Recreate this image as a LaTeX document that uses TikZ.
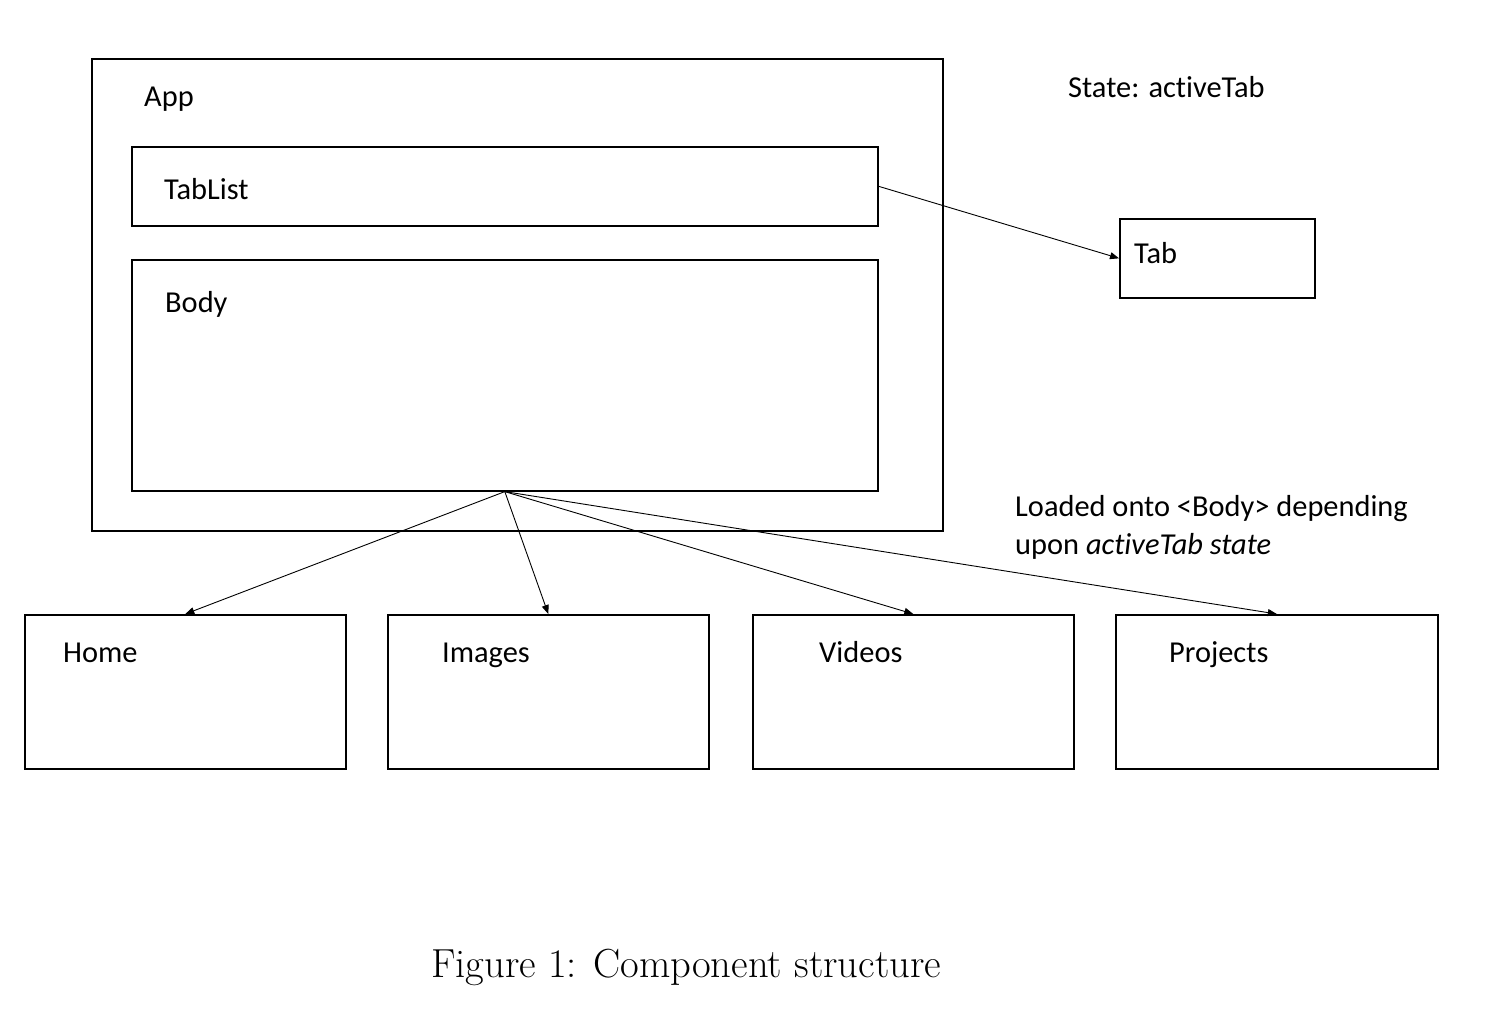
\documentclass[tikz,border=0pt]{standalone}
\usepackage{fontspec}
\setmainfont{Carlito}[Ligatures=NoCommon]
\newfontfamily\lmfont{Latin Modern Roman}
\usetikzlibrary{arrows.meta}
\begin{document}
\begin{tikzpicture}[x=1pt,y=-1pt,
  box/.style={draw, line width=1.6pt, inner sep=0pt, anchor=north west},
  lbl/.style={anchor=base west, inner sep=0pt, font=\fontsize{30.4}{36}\selectfont},
  conn/.style={line width=0.9pt, -{Triangle[length=9pt,width=7pt]}}]
\useasboundingbox (0,0) rectangle (1496,1026);
\node[box, minimum width=851pt, minimum height=472pt] (app) at (91,58) {};
\node[box, minimum width=746pt, minimum height=79pt] (tablist) at (131,146) {};
\node[box, minimum width=746pt, minimum height=231pt] (body) at (131,259) {};
\node[box, minimum width=195pt, minimum height=79pt] (tab) at (1119,218) {};
\node[box, minimum width=321pt, minimum height=154pt] (home) at (24,614) {};
\node[box, minimum width=321pt, minimum height=154pt] (images) at (387,614) {};
\node[box, minimum width=321pt, minimum height=154pt] (videos) at (752,614) {};
\node[box, minimum width=322pt, minimum height=154pt] (projects) at (1115,614) {};
\node[lbl] (tApp) at (144,106) {App};
\node[lbl] (tTabList) at (164,199) {TabList};
\node[lbl] (tBody) at (165,312) {Body};
\node[lbl] (tTab) at (1134,263) {Tab};
\node[lbl] (tHome) at (63,662) {Home};
\node[lbl] (tImages) at (442,662) {Images};
\node[lbl] (tVideos) at (819,662) {Videos};
\node[lbl] (tProjects) at (1169,662) {Projects};
\node[lbl] (tState) at (1068,97) {State: activeTab};
\node[lbl] (tLoaded) at (1015,516) {Loaded onto <Body> depending};
\node[lbl] (tUpon) at (1015,554) {upon \textit{activeTab state}};
\node[anchor=base west, inner sep=0pt, font=\lmfont\fontsize{40.6}{46}\selectfont] (caption) at (431,977) {Figure 1: Component structure};
\coordinate (bsrc) at (body.south);
\draw[conn] (tablist.east) -- (tab.west);
\draw[conn] (bsrc) -- (home.north);
\draw[conn] (bsrc) -- (images.north);
\draw[conn] (bsrc) -- (videos.north);
\draw[conn] (bsrc) -- (projects.north);
\end{tikzpicture}
\end{document}
